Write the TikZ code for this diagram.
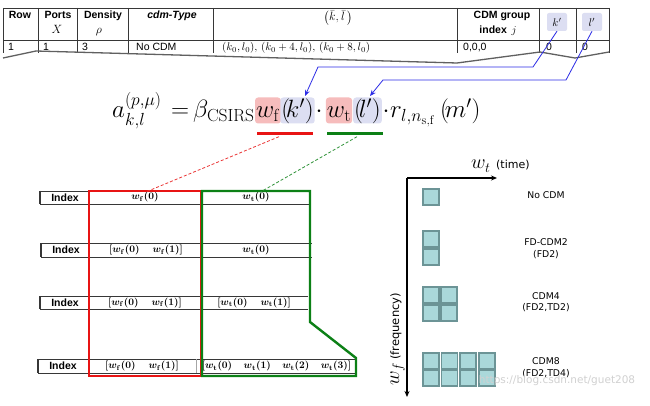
\RequirePackage{fix-cm}
\documentclass[tikz,border=0pt]{standalone}
\usepackage{amsmath,bm}
\usepackage[no-math]{fontspec}
\setmainfont{Liberation Sans}
\newfontfamily\dejavu{DejaVu Sans}
\usetikzlibrary{arrows.meta,calc}
\definecolor{hlpink}{RGB}{246,188,188}
\definecolor{hllav}{RGB}{220,222,242}
\definecolor{myblue}{RGB}{45,45,230}
\definecolor{myred}{RGB}{232,20,20}
\definecolor{mygreen}{RGB}{12,128,22}
\definecolor{cellfill}{RGB}{170,216,218}
\definecolor{celledge}{RGB}{108,148,150}
\definecolor{tblline}{RGB}{55,55,55}
\newcommand{\mywf}[1]{w_{\mathbf f}(\mathbf{#1})}
\newcommand{\mywt}[1]{w_{\mathbf t}(\mathbf{#1})}
\begin{document}
\begin{tikzpicture}[x=1pt,y=-1pt,
  tbl/.style={draw=tblline, line width=0.9pt},
  hdr/.style={font=\fontsize{10.5}{12}\selectfont\bfseries, inner sep=0, anchor=base},
  cellt/.style={font=\fontsize{10.5}{12}\selectfont, inner sep=0, anchor=base west},
  fpiece/.style={inner sep=0pt, text height=20pt, text depth=5pt, anchor=base, font=\fontsize{25}{30}\selectfont},
  hlbox/.style={fpiece, inner xsep=1pt, inner ysep=0.5pt, rounded corners=3pt},
  hdrbox/.style={fill=hllav, rounded corners=2pt, minimum width=20pt, minimum height=18pt, inner sep=0, font=\fontsize{11}{12}\selectfont},
  idx/.style={font=\fontsize{10.5}{12}\selectfont\bfseries, inner sep=0},
  wcell/.style={font=\fontsize{10}{12}\selectfont\boldmath, inner sep=0},
  cdmcell/.style={draw=celledge, fill=cellfill, line width=1.8pt, minimum size=16pt, inner sep=0, anchor=north west},
  cdmlab/.style={font=\dejavu\fontsize{9.3}{11.5}\selectfont, align=center, inner sep=0},
  bluearr/.style={draw=myblue, line width=0.8pt, -{Stealth[length=6pt,width=5pt]}},
  axisl/.style={draw=black, line width=1.1pt, -{Stealth[length=6pt,width=5pt]}},
  redbox/.style={draw=myred, line width=2.4pt},
  greenbox/.style={draw=mygreen, line width=2.4pt, line join=miter},
  rdash/.style={draw=myred!85, line width=0.8pt, dash pattern=on 3pt off 2pt},
  gdash/.style={draw=mygreen!85, line width=0.8pt, dash pattern=on 3pt off 2pt}
]
\useasboundingbox (0,0) rectangle (650,406);
\fill[white] (0,0) rectangle (650,406);

% ---------------- top table ----------------
\draw[tbl] (3,8) -- (609,8) (3,40) -- (609,40);
\foreach \xx in {3,38,77,128,213,457,539,576,609}{\draw[tbl] (\xx,8) -- (\xx,53);}
\draw[draw=gray!75!black, line width=1.3pt, line join=round]
  (3,58) -- (36,51) -- (457,63) -- (540,52) -- (575,58) -- (609,52);

\node[hdr] (hrow) at (20,19) {Row};
\node[hdr] (hports) at (58,19) {Ports};
\node[hdr, font=\fontsize{12}{12}\selectfont] (hx) at (57,34) {$X$};
\node[hdr] (hdens) at (103,19) {Density};
\node[hdr, font=\fontsize{12}{12}\selectfont] (hrho) at (99,34) {$\rho$};
\node[hdr, font=\fontsize{10.5}{12}\selectfont\bfseries\itshape] (hcdm) at (172,19) {cdm-Type};
\node[hdr, font=\fontsize{12}{13}\selectfont] (hkl) at (338,21) {$\bigl(\bar{k},\bar{l}\,\bigr)$};
\node[hdr] (hgrp) at (502,19) {CDM group};
\node[hdr] (hidx) at (498,34) {index \,$j$};
\node[hdrbox] (kh) at (557,22) {$k'$};
\node[hdrbox] (lh) at (592,22) {$l'$};

\node[cellt] (r1a) at (8,51) {1};
\node[cellt] (r1b) at (43,51) {1};
\node[cellt] (r1c) at (82,51) {3};
\node[cellt] (r1d) at (136,51) {No CDM};
\node[cellt, font=\fontsize{11}{12}\selectfont] (r1e) at (222,51) {$(k_0,l_0),\,(k_0+4,l_0),\,(k_0+8,l_0)$};
\node[cellt] (r1f) at (463,51) {0,0,0};
\node[cellt] (r1g) at (546,51) {0};
\node[cellt] (r1h) at (582,51) {0};

% ---------------- formula ----------------
\node[fpiece, anchor=base west] (fa) at (112,118) {$a^{(p,\mu)}_{k,l}$};
\node[fpiece] (feq) at (180,118) {$=$};
\node[fpiece, anchor=base west] (fb) at (193,118) {$\beta_{\mathrm{CSIRS}}$};
\node[hlbox, fill=hlpink, minimum width=24pt] (fwf) at (268,118) {$w_{\mathrm f}$};
\node[hlbox, fill=hllav] (fk) at (297.5,118) {$(\!k')$};
\node[fpiece] (fd1) at (319,118) {$\cdot$};
\node[hlbox, fill=hlpink] (fwt) at (339,118) {$w_{\mathrm t}$};
\node[hlbox, fill=hllav] (fl) at (367.5,118) {$(\!l')$};
\node[fpiece] (fd2) at (386,118) {$\cdot$};
\node[fpiece, anchor=base west] (fr) at (390,118) {$r_{l,n_{\mathrm{s,f}}}$};
\node[fpiece, anchor=base west] (fm) at (440,118) {$(\!m')$};

\node[fill=myred, minimum width=56pt, minimum height=3pt, inner sep=0] (ulr) at (285,134) {};
\node[fill=mygreen, minimum width=56pt, minimum height=3pt, inner sep=0] (ulg) at (355,134) {};

% blue arrows
\coordinate (kb1) at (533,67);
\coordinate (kb2) at (318,67);
\coordinate (kend) at (305,96);
\coordinate (lb1) at (566,80);
\coordinate (lb2) at (383,80);
\coordinate (lend) at (370,96);
\draw[bluearr] (kh.south) -- (kb1) -- (kb2) -- (kend);
\draw[bluearr] (lh.south) -- (lb1) -- (lb2) -- (lend);

% ---------------- left tables ----------------
\draw[tbl] (40,191) -- (311,191) (40,204) -- (311,204) (89,191) -- (89,204);
\draw[tbl, line width=1.4pt] (40,191) -- (40,204);
\draw[tbl] (41,243) -- (312,243) (41,257) -- (312,257) (89,243) -- (89,257);
\draw[tbl, line width=1.4pt] (41,243) -- (41,257);
\draw[tbl] (40,296) -- (308,296) (40,309) -- (308,309) (89,296) -- (89,309);
\draw[tbl, line width=1.4pt] (40,296) -- (40,309);
\draw[tbl] (38,359) -- (355,359) (38,373) -- (355,373) (89,359) -- (89,373);
\draw[tbl, line width=1.4pt] (38,359) -- (38,373);
\draw[draw=gray!70, line width=1pt] (196,359) -- (196,373);

\node[idx] (i1) at (65,197.5) {Index};
\node[idx] (i2) at (66,250) {Index};
\node[idx] (i3) at (65,302.5) {Index};
\node[idx] (i4) at (63,366) {Index};

\node[wcell] (t1f) at (145,197.5) {$\mywf{0}$};
\node[wcell] (t1t) at (256,197.5) {$\mywt{0}$};
\node[wcell] (t2f) at (146,250) {$[\mywf{0}\hspace{13pt}\mywf{1}]$};
\node[wcell] (t2t) at (256,250) {$\mywt{0}$};
\node[wcell] (t3f) at (145,302.5) {$[\mywf{0}\hspace{13pt}\mywf{1}]$};
\node[wcell] (t3t) at (254,302.5) {$[\mywt{0}\hspace{13pt}\mywt{1}]$};
\node[wcell] (t4f) at (142,366) {$[\mywf{0}\hspace{13pt}\mywf{1}]$};
\node[wcell] (t4t) at (276.5,366) {$[\mywt{0}\hspace{11.5pt}\mywt{1}\hspace{11.5pt}\mywt{2}\hspace{11.5pt}\mywt{3}]$};

\draw[redbox] (89,191) rectangle (201,376);
\draw[greenbox] (202,191) -- (310,191) -- (310,322) -- (356,358) -- (356,376) -- (202,376) -- cycle;

\draw[rdash] ($(ulr.south)+(-6,1)$) -- (t1f.north);
\draw[gdash] ($(ulg.south)+(2,1)$) -- ($(t1t.north)+(4,0)$);

% ---------------- right panel ----------------
\coordinate (orig) at (407,178);
\coordinate (tend) at (497,178);
\coordinate (fend) at (407,397);
\draw[axisl] (orig) -- (tend);
\draw[axisl] (orig) -- (fend);
\node[inner sep=0, anchor=base west, font=\fontsize{20}{22}\selectfont] (wtl) at (471,169) {$w_t$};
\node[inner sep=0, anchor=base west, font=\dejavu\fontsize{11}{12}\selectfont] (timel) at (496,169) {(time)};
\node[inner sep=0, anchor=base west, rotate=90, font=\fontsize{20}{22}\selectfont] (wfl) at (399,386) {$w_f$\,{\dejavu\fontsize{11.5}{12}\selectfont (frequency)}};

\node[cdmcell] (c0) at (421.9,187.9) {};
\node[cdmcell] (c1a) at (421.9,229.9) {};
\node[cdmcell] (c1b) at (421.9,247.9) {};
\foreach \cc in {0,1}{
  \foreach \rr in {0,1}{
    \node[cdmcell] (c4-\cc-\rr) at (421.9+18.5*\cc,285.9+18*\rr) {};
  }
}
\foreach \cc in {0,1,2,3}{
  \foreach \rr in {0,1}{
    \node[cdmcell] (c8-\cc-\rr) at (421.9+18.75*\cc,351.9+17.5*\rr) {};
  }
}
\node[cdmlab] (l0) at (546,195) {No CDM};
\node[cdmlab] (l1) at (546,248.5) {FD-CDM2\\(FD2)};
\node[cdmlab] (l2) at (546,302) {CDM4\\(FD2,TD2)};
\node[cdmlab] (l3) at (546,367.5) {CDM8\\(FD2,TD4)};
\node[inner sep=0, font=\dejavu\fontsize{10.5}{12}\selectfont, text=black!18] (wm) at (557,381) {https://blog.csdn.net/guet208};
\end{tikzpicture}
\end{document}
